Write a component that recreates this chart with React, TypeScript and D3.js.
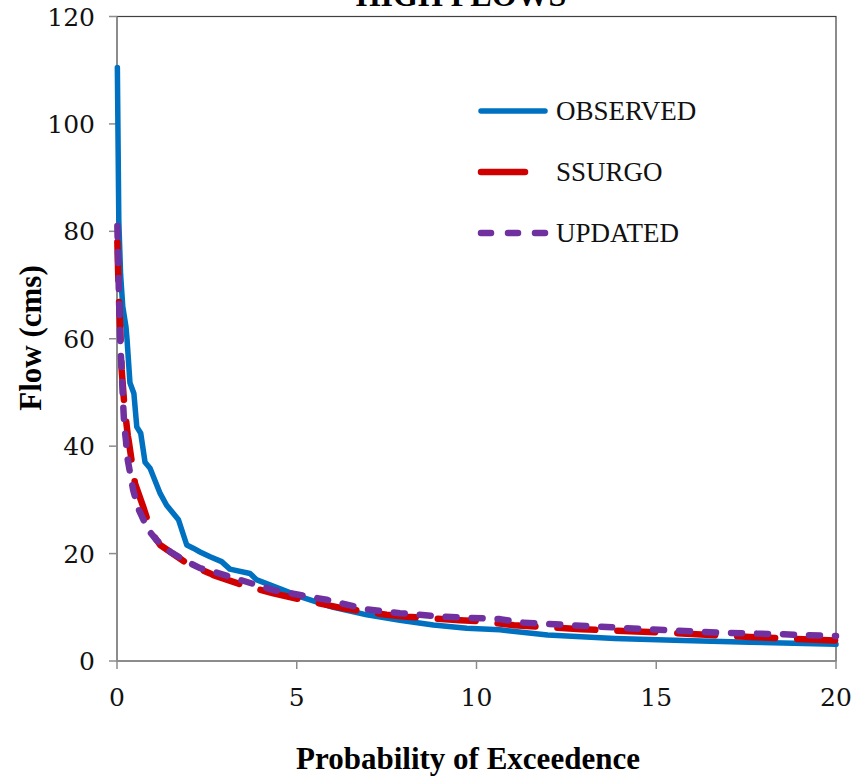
import React from 'react';
import * as d3 from 'd3';

const width = 866;
const height = 776;
const margin = { top: 16.5, right: 30, bottom: 115, left: 117 };

// probability of exceedence (%) and flow (cms)
const observedProb = [0.01, 0.05, 0.1, 0.16, 0.25, 0.28, 0.36, 0.47, 0.55, 0.66, 0.78, 0.92, 1.2, 1.38, 1.71, 1.94, 2.12, 2.31, 2.59, 2.91, 3.14, 3.7, 3.89, 4.63, 5.09, 6.02, 6.95, 7.87, 8.8, 9.73, 10.65, 11.98, 13.85, 15.74, 17.6, 20];
const observedFlow = [110.5, 82, 72, 66, 62.2, 59.8, 51.8, 49.8, 43.6, 42.4, 37, 35.9, 31.2, 29.0, 26.3, 21.6, 21.0, 20.3, 19.4, 18.5, 17.1, 16.3, 15.1, 13.2, 12.0, 10.0, 8.6, 7.6, 6.7, 6.1, 5.8, 4.84, 4.2, 3.83, 3.5, 3.1];

const ssurgoProb = [0.01, 0.05, 0.1, 0.13, 0.2, 0.3, 0.33, 0.5, 0.73, 0.97, 1.2, 1.94, 2.59, 2.68, 3.51, 4.35, 5.37, 6.3, 7.5, 8.06, 9.54, 10.0, 11.04, 12.92, 15.27, 17.6, 20];
const ssurgoFlow = [78, 68, 60, 54.2, 48, 42, 40.8, 33.1, 28.7, 23.8, 21.6, 18.2, 16.3, 16.0, 14.1, 12.6, 11.05, 9.8, 8.6, 8.25, 7.6, 7.45, 6.67, 5.9, 5.29, 4.47, 3.83];

const updatedProb = [0.01, 0.04, 0.07, 0.1, 0.13, 0.17, 0.2, 0.25, 0.27, 0.3, 0.45, 0.59, 0.87, 1.1, 1.48, 1.94, 2.31, 2.5, 3.14, 4.35, 5.09, 5.83, 6.95, 7.87, 9.08, 10.65, 11.23, 12.63, 14.8, 16.67, 18.55, 20];
const updatedFlow = [81, 72, 64, 58, 54, 48, 44, 41, 39, 37.4, 31.8, 28.4, 24.4, 22.5, 20.35, 18.5, 17.3, 17.0, 15.7, 13.2, 12.3, 11.4, 9.6, 8.9, 8.25, 7.8, 7.17, 6.67, 5.9, 5.29, 4.97, 4.65];

const xTicks = [0, 5, 10, 15, 20];
const yTicks = [0, 20, 40, 60, 80, 100, 120];

const series = [
  { name: 'OBSERVED', prob: observedProb, flow: observedFlow, color: '#0070C0', width: 5.5, dash: null, legendDash: null },
  { name: 'SSURGO', prob: ssurgoProb, flow: ssurgoFlow, color: '#D00000', width: 6.5, dash: '38 22', legendDash: '44 40' },
  { name: 'UPDATED', prob: updatedProb, flow: updatedFlow, color: '#7030A0', width: 6.5, dash: '11 15', legendDash: '10 17' },
];

const tickFont = '"DejaVu Serif", serif';
const textFont = '"Liberation Serif", "Times New Roman", serif';

export default function App() {
  const xScale = d3.scaleLinear().domain([0, 20]).range([margin.left, width - margin.right]);
  const yScale = d3.scaleLinear().domain([0, 120]).range([height - margin.bottom, margin.top]);

  const line = d3.line<number[]>()
    .x(d => d[0])
    .y(d => d[1]);

  const x0 = xScale(0), x1 = xScale(20);
  const y0 = yScale(0), y1 = yScale(120);

  return (
    <svg width={width} height={height} style={{ position: 'absolute', left: 0, top: 0, background: '#fff' }}>
      {/* title, cut off at the top as in the source */}
      <text x={461} y={6} textAnchor="middle" fontFamily={textFont} fontWeight="bold" fontSize={32}>HIGH FLOWS</text>

      {/* plot border */}
      <rect x={x0} y={y1} width={x1 - x0} height={y0 - y1} fill="none" stroke="#404040" strokeWidth={1.2} />

      {/* y axis */}
      <line x1={x0} x2={x0} y1={y1} y2={y0} stroke="#8c8c8c" strokeWidth={1.5} />
      {yTicks.map(t => (
        <g key={t}>
          <line x1={x0 - 8} x2={x0} y1={yScale(t)} y2={yScale(t)} stroke="#8c8c8c" strokeWidth={1.5} />
          <text x={95} y={yScale(t)} dy="0.36em" textAnchor="end" fontFamily={tickFont} fontSize={25} fill="#111">{t}</text>
        </g>
      ))}

      {/* x axis */}
      <line x1={x0} x2={x1} y1={y0} y2={y0} stroke="#8c8c8c" strokeWidth={1.5} />
      {xTicks.map(t => (
        <g key={t}>
          <line x1={xScale(t)} x2={xScale(t)} y1={y0} y2={y0 + 8} stroke="#8c8c8c" strokeWidth={1.5} />
          <text x={xScale(t)} y={706} textAnchor="middle" fontFamily={tickFont} fontSize={25} fill="#111">{t}</text>
        </g>
      ))}

      {/* axis titles */}
      <text transform="translate(41, 338) rotate(-90)" textAnchor="middle" fontFamily={textFont} fontWeight="bold" fontSize={31}>Flow (cms)</text>
      <text x={468} y={769} textAnchor="middle" fontFamily={textFont} fontWeight="bold" fontSize={31}>Probability of Exceedence</text>

      {/* data lines */}
      {series.map(s => (
        <path key={s.name}
          d={line(s.prob.map((p, i) => [xScale(p), yScale(s.flow[i])])) || ''}
          fill="none"
          stroke={s.color}
          strokeWidth={s.width}
          strokeLinecap="round"
          strokeLinejoin="round"
          strokeDasharray={s.dash || undefined} />
      ))}

      {/* legend */}
      {series.map((s, i) => {
        const ly = 111 + i * 61;
        return (
          <g key={s.name}>
            <line x1={481} x2={545} y1={ly} y2={ly} stroke={s.color} strokeWidth={s.width}
              strokeLinecap="round" strokeDasharray={s.legendDash || undefined} />
            <text x={556} y={ly + 9} fontFamily={textFont} fontSize={27} fill="#111">{s.name}</text>
          </g>
        );
      })}
    </svg>
  );
}
